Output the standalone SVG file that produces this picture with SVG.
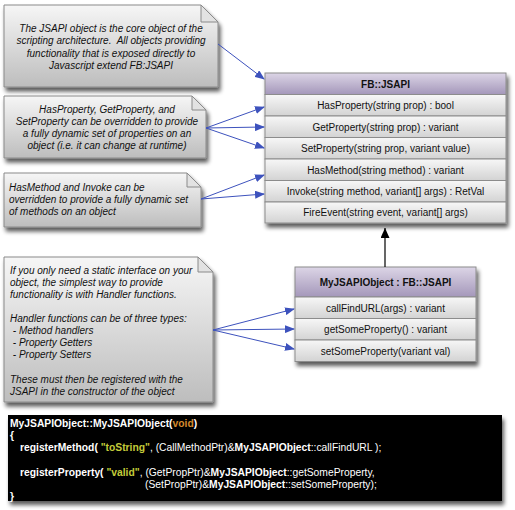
<svg xmlns="http://www.w3.org/2000/svg" width="515" height="510" viewBox="0 0 515 510">
<defs>
<linearGradient id="noteG" x1="0" y1="0" x2="0" y2="1">
<stop offset="0" stop-color="#f6f6f6"/>
<stop offset="1" stop-color="#bdbdbd"/>
</linearGradient>
<linearGradient id="rowG" x1="0" y1="0" x2="0" y2="1">
<stop offset="0" stop-color="#f7f7f7"/>
<stop offset="1" stop-color="#d3d3d3"/>
</linearGradient>
<linearGradient id="headG" x1="0" y1="0" x2="0" y2="1">
<stop offset="0" stop-color="#dcd5e6"/>
<stop offset="1" stop-color="#a497ba"/>
</linearGradient>
<filter id="sh" x="-10%" y="-10%" width="125%" height="135%">
<feGaussianBlur in="SourceAlpha" stdDeviation="2"/>
<feOffset dx="2" dy="4" result="b"/>
<feComponentTransfer><feFuncA type="linear" slope="0.65"/></feComponentTransfer>
<feMerge><feMergeNode/><feMergeNode in="SourceGraphic"/></feMerge>
</filter>
<marker id="blue" markerWidth="10" markerHeight="8" refX="9" refY="4" orient="auto" markerUnits="userSpaceOnUse">
<path d="M0,0 L10,4 L0,8 z" fill="#3d52bd"/>
</marker>
<marker id="inh" markerWidth="9" markerHeight="11" refX="4.5" refY="0" orient="0" markerUnits="userSpaceOnUse">
<path d="M4.5,0 L9,10 L0,10 z" fill="#000"/>
</marker>
</defs>
<style>
.note{fill:url(#noteG);stroke:#8a8a8a;stroke-width:1}
.fold{fill:#e2e2e2;stroke:#8a8a8a;stroke-width:1}
.nt{font-family:"Liberation Sans",Arial,sans-serif;font-style:italic;font-size:10px;fill:#111;white-space:pre}
.row{fill:url(#rowG);stroke:#8c8c8c;stroke-width:1}
.head{fill:url(#headG);stroke:#8c8c8c;stroke-width:1}
.ct{font-family:"Liberation Sans",Arial,sans-serif;font-size:10px;fill:#111;text-anchor:middle}
.ht{font-family:"Liberation Sans",Arial,sans-serif;font-size:10px;font-weight:bold;fill:#111;text-anchor:middle}
.code{font-family:"Liberation Sans",Arial,sans-serif;font-size:10.3px;fill:#fff;white-space:pre}
.b{font-weight:bold}
.str{font-weight:bold;fill:#c4cc3a}
.kw{font-weight:bold;fill:#d58a2c}
.conn{stroke:#3d52bd;stroke-width:1;fill:none;marker-end:url(#blue)}
</style>

<g id="note1">
<path class="note" filter="url(#sh)" d="M4,5 H201 L218,22 V87 H4 Z"/>
<path class="fold" d="M201,5 L201,22 L218,22 Z"/>
<text class="nt" text-anchor="middle" x="111" y="31.5">The JSAPI object is the core object of the</text>
<text class="nt" text-anchor="middle" x="111" y="44" xml:space="preserve">scripting architecture.  All objects providing</text>
<text class="nt" text-anchor="middle" x="111" y="56.5">functionality that is exposed directly to</text>
<text class="nt" text-anchor="middle" x="111" y="69">Javascript extend FB:JSAPI</text>
</g>

<g id="note2">
<path class="note" filter="url(#sh)" d="M4,96 H192 L206,110 V158 H4 Z"/>
<path class="fold" d="M192,96 L192,110 L206,110 Z"/>
<text class="nt" text-anchor="middle" x="107" y="112.5">HasProperty, GetProperty, and</text>
<text class="nt" text-anchor="middle" x="107" y="125">SetProperty can be overridden to provide</text>
<text class="nt" text-anchor="middle" x="107" y="137">a fully dynamic set of properties on an</text>
<text class="nt" text-anchor="middle" x="107" y="149">object (i.e. it can change at runtime)</text>
</g>

<g id="note3">
<path class="note" filter="url(#sh)" d="M4,173 H187 L201,187 V227 H4 Z"/>
<path class="fold" d="M187,173 L187,187 L201,187 Z"/>
<text class="nt" x="9" y="190.5">HasMethod and Invoke can be</text>
<text class="nt" x="9" y="202.5">overridden to provide a fully dynamic set</text>
<text class="nt" x="9" y="214.5">of methods on an object</text>
</g>

<g id="note4">
<path class="note" filter="url(#sh)" d="M4,257 H198 L213,272 V402 H4 Z"/>
<path class="fold" d="M198,257 L198,272 L213,272 Z"/>
<text class="nt" x="10" y="273.5">If you only need a static interface on your</text>
<text class="nt" x="10" y="285.5">object, the simplest way to provide</text>
<text class="nt" x="10" y="298">functionality is with Handler functions.</text>
<text class="nt" x="10" y="321.5">Handler functions can be of three types:</text>
<text class="nt" x="10" y="333.5" xml:space="preserve"> - Method handlers</text>
<text class="nt" x="10" y="345.5" xml:space="preserve"> - Property Getters</text>
<text class="nt" x="10" y="357.5" xml:space="preserve"> - Property Setters</text>
<text class="nt" x="10" y="382.5">These must then be registered with the</text>
<text class="nt" x="10" y="394.5">JSAPI in the constructor of the object</text>
</g>

<g id="fbjsapi" filter="url(#sh)">
<rect class="head" x="265" y="73" width="241" height="21.5"/>
<rect class="row" x="265" y="94.5" width="241" height="21.5"/>
<rect class="row" x="265" y="116" width="241" height="21.5"/>
<rect class="row" x="265" y="137.5" width="241" height="21.5"/>
<rect class="row" x="265" y="159" width="241" height="21.5"/>
<rect class="row" x="265" y="180.5" width="241" height="21.5"/>
<rect class="row" x="265" y="202" width="241" height="21"/>
</g>
<g id="fbjsapi-text">
<text class="ht" x="385.5" y="87.5">FB::JSAPI</text>
<text class="ct" x="385.5" y="109">HasProperty(string prop) : bool</text>
<text class="ct" x="385.5" y="130.5">GetProperty(string prop) : variant</text>
<text class="ct" x="385.5" y="152">SetProperty(string prop, variant value)</text>
<text class="ct" x="385.5" y="173.5">HasMethod(string method) : variant</text>
<text class="ct" x="385.5" y="195">Invoke(string method, variant[] args) : RetVal</text>
<text class="ct" x="385.5" y="216">FireEvent(string event, variant[] args)</text>
</g>

<g id="myjsapiobject" filter="url(#sh)">
<rect class="head" x="295" y="267" width="181" height="30"/>
<rect class="row" x="295" y="297" width="181" height="21.5"/>
<rect class="row" x="295" y="318.5" width="181" height="21.5"/>
<rect class="row" x="295" y="340" width="181" height="21.5"/>
</g>
<g id="myjsapiobject-text">
<text class="ht" x="385.5" y="285.5">MyJSAPIObject : FB::JSAPI</text>
<text class="ct" x="385.5" y="311.5">callFindURL(args) : variant</text>
<text class="ct" x="385.5" y="333">getSomeProperty() : variant</text>
<text class="ct" x="385.5" y="354.5">setSomeProperty(variant val)</text>
</g>

<g id="connectors">
<line class="conn" x1="218" y1="44" x2="264" y2="79"/>
<line class="conn" x1="206" y1="128" x2="264" y2="107"/>
<line class="conn" x1="206" y1="128" x2="264" y2="127"/>
<line class="conn" x1="206" y1="128" x2="264" y2="148"/>
<line class="conn" x1="201" y1="199" x2="264" y2="175"/>
<line class="conn" x1="201" y1="199" x2="264" y2="194"/>
<line class="conn" x1="213" y1="330" x2="294" y2="309"/>
<line class="conn" x1="213" y1="330" x2="294" y2="329"/>
<line class="conn" x1="213" y1="330" x2="294" y2="349"/>
<line x1="385" y1="267" x2="385" y2="228" stroke="#000" stroke-width="1.2" marker-end="url(#inh)"/>
</g>

<g id="code">
<rect x="8" y="415" width="494" height="86" fill="#000" filter="url(#sh)"/>
<text class="code" x="10" y="427"><tspan class="b">MyJSAPIObject::MyJSAPIObject(</tspan><tspan class="kw">void</tspan><tspan class="b">)</tspan></text>
<text class="code b" x="10" y="439">{</text>
<text class="code" x="20" y="451" xml:space="preserve"><tspan class="b">registerMethod( </tspan><tspan class="str">"toString"</tspan><tspan>, (CallMethodPtr)&amp;</tspan><tspan class="b">MyJSAPIObject</tspan><tspan>::callFindURL );</tspan></text>
<text class="code" x="20" y="475.5" xml:space="preserve"><tspan class="b">registerProperty( </tspan><tspan class="str">"valid"</tspan><tspan>, (GetPropPtr)&amp;</tspan><tspan class="b">MyJSAPIObject</tspan><tspan>::getSomeProperty,</tspan></text>
<text class="code" x="145" y="487.5"><tspan>(SetPropPtr)&amp;</tspan><tspan class="b">MyJSAPIObject</tspan><tspan>::setSomeProperty);</tspan></text>
<text class="code b" x="10" y="499.5">}</text>
</g>
</svg>
